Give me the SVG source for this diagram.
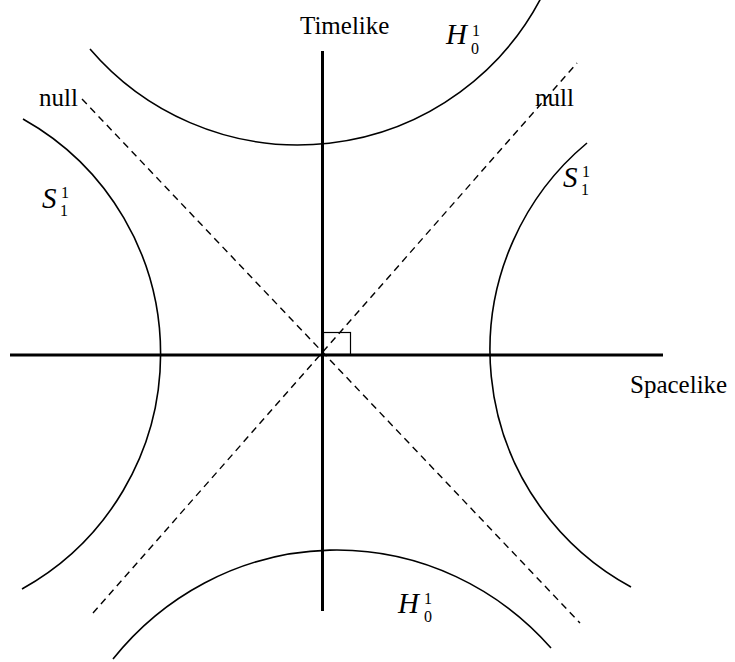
<svg xmlns="http://www.w3.org/2000/svg" width="735" height="662" viewBox="0 0 735 662">
<style>
.axis{stroke:#000;stroke-width:3;fill:none}
.curve{stroke:#000;stroke-width:1.6;fill:none}
.null{stroke:#000;stroke-width:1.4;fill:none;stroke-dasharray:7 5}
.thin{stroke:#000;stroke-width:1.2;fill:none}
.lbl{font-family:"Liberation Serif","Times New Roman",serif;font-size:25px;fill:#000}
.m{font-family:"Liberation Serif","Times New Roman",serif;font-style:italic;font-size:29px;fill:#000}
.s{font-family:"Liberation Serif","Times New Roman",serif;font-size:16px;fill:#000}
</style>
<rect width="735" height="662" fill="#fff"/>
<g id="connectors">
<path class="null" d="M82 99 L580 623"/>
<path class="null" d="M93 613 L577 63"/>
<path class="axis" d="M10 355 H663"/>
<path class="axis" d="M322.5 51 V611"/>
<rect class="thin" x="323.5" y="332.5" width="27" height="22"/>
</g>
<g id="H0-top">
<path class="curve" d="M90 49 A274 274 0 0 0 541 -2"/>
<text class="m" x="446" y="44">H</text>
<text class="s" x="472" y="35.5">1</text>
<text class="s" x="471" y="53.5">0</text>
</g>
<g id="H0-bottom">
<path class="curve" d="M113 659 A290 300 0 0 1 551 648"/>
<text class="m" x="398" y="613">H</text>
<text class="s" x="424" y="603.5">1</text>
<text class="s" x="424" y="621.5">0</text>
</g>
<g id="S1-left">
<path class="curve" d="M23 119 A269 269 0 0 1 22 589"/>
<text class="m" x="42" y="208">S</text>
<text class="s" x="61" y="197.5">1</text>
<text class="s" x="60" y="215.5">1</text>
</g>
<g id="S1-right">
<path class="curve" d="M587 143 A269.5 269.5 0 0 0 631 587"/>
<text class="m" x="563" y="187">S</text>
<text class="s" x="582" y="177">1</text>
<text class="s" x="581" y="195">1</text>
</g>
<g id="labels">
<text class="lbl" x="300" y="34">Timelike</text>
<text class="lbl" x="630" y="393">Spacelike</text>
<text class="lbl" x="39" y="106">null</text>
<text class="lbl" x="535" y="106">null</text>
</g>
</svg>
